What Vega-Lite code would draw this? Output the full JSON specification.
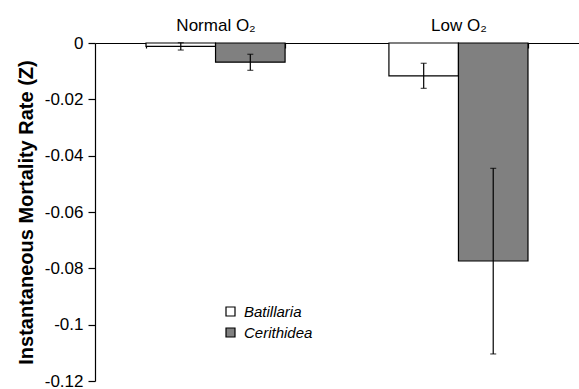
{
  "$schema": "https://vega.github.io/schema/vega-lite/v6.json",
  "width": 484,
  "height": 338,
  "autosize": {"type": "none"},
  "padding": {"left": 95, "top": 43, "right": 0, "bottom": 8},
  "background": "white",
  "config": {
    "font": "Liberation Sans",
    "view": {"stroke": null},
    "axis": {"grid": false, "domainColor": "black", "tickColor": "black", "labelColor": "black", "titleColor": "black", "domainWidth": 1.2, "tickWidth": 1.2}
  },
  "data": {
    "values": [
      {"group": "Normal O₂", "species": "Batillaria", "value": -0.0012, "lo": -0.0025, "hi": 0.0001},
      {"group": "Normal O₂", "species": "Cerithidea", "value": -0.0068, "lo": -0.0097, "hi": -0.0040},
      {"group": "Low O₂", "species": "Batillaria", "value": -0.0117, "lo": -0.0161, "hi": -0.0072},
      {"group": "Low O₂", "species": "Cerithidea", "value": -0.0774, "lo": -0.1104, "hi": -0.0445}
    ]
  },
  "encoding": {
    "x": {
      "field": "group", "type": "nominal",
      "scale": {"domain": ["Normal O₂", "Low O₂"], "paddingInner": 0.4275, "paddingOuter": 0.21},
      "axis": {"orient": "top", "title": null, "labelAngle": 0, "labelFontSize": 17, "labelPadding": 14, "tickBand": "extent", "tickSize": -5}
    },
    "xOffset": {"field": "species", "type": "nominal", "scale": {"domain": ["Batillaria", "Cerithidea"], "paddingInner": 0, "paddingOuter": 0}}
  },
  "layer": [
    {
      "mark": {"type": "bar", "stroke": "black", "strokeWidth": 1.2},
      "encoding": {
        "y": {
          "field": "value", "type": "quantitative",
          "scale": {"domain": [-0.12, 0], "nice": false, "zero": false},
          "axis": {
            "title": "Instantaneous Mortality Rate (Z)",
            "titleFontSize": 20, "titleFontWeight": "bold", "titlePadding": 8,
            "values": [0, -0.02, -0.04, -0.06, -0.08, -0.1, -0.12],
            "labelExpr": "datum.value == 0 ? '0' : '-' + format(-datum.value, '')",
            "labelFontSize": 17, "labelPadding": 5, "tickSize": 7
          }
        },
        "fill": {
          "field": "species", "type": "nominal",
          "scale": {"domain": ["Batillaria", "Cerithidea"], "range": ["white", "#808080"]},
          "legend": {
            "title": null, "orient": "none", "legendX": 128, "legendY": 261,
            "symbolType": "square", "symbolSize": 81, "symbolStrokeColor": "black", "symbolStrokeWidth": 1.2,
            "labelFontSize": 15, "labelFontStyle": "italic", "labelOffset": 6, "rowPadding": 5, "padding": 0
          }
        }
      }
    },
    {
      "mark": {"type": "rule", "color": "black", "strokeWidth": 1.2},
      "encoding": {
        "y": {"field": "lo", "type": "quantitative"},
        "y2": {"field": "hi"}
      }
    },
    {
      "mark": {"type": "tick", "color": "black", "size": 6, "thickness": 1.2},
      "encoding": {"y": {"field": "lo", "type": "quantitative"}}
    },
    {
      "mark": {"type": "tick", "color": "black", "size": 6, "thickness": 1.2},
      "encoding": {"y": {"field": "hi", "type": "quantitative"}}
    }
  ]
}
